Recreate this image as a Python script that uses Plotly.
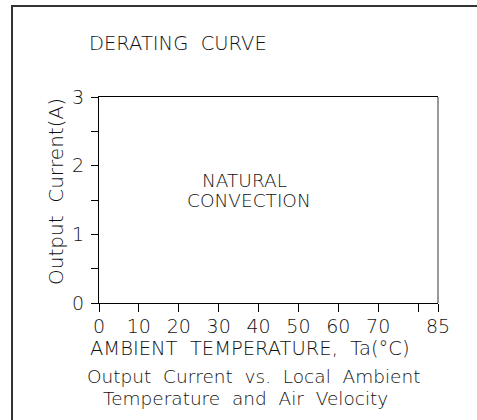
import plotly.graph_objects as go

# Axis ticks / labels
x_tickvals = [0, 10, 20, 30, 40, 50, 60, 70, 80, 85]
x_ticktext = ["0", "10", "20", "30", "40", "50", "60", "70", "", "85"]
y_tickvals = [0, 0.5, 1, 1.5, 2, 2.5, 3]
y_ticktext = ["0", "", "1", "", "2", "", "3"]
x_range = [0, 85]
y_range = [0, 3]

title_text = "DERATING  CURVE"
x_title = "AMBIENT  TEMPERATURE,  Ta(°C)"
y_title = "Output  Current(A)"
caption1 = "Output  Current  vs.  Local  Ambient"
caption2 = "Temperature  and  Air  Velocity"
region_lines = ["NATURAL", "CONVECTION"]
region_x = [36.6, 37.6]
region_y = [1.79, 1.50]

FONT = "DejaVu Sans"

fig = go.Figure()
fig.add_trace(go.Scatter(x=[], y=[], mode="lines", showlegend=False))

fig.update_layout(
    width=477, height=420, autosize=False,
    margin=dict(l=99, r=39, t=97, b=117),
    paper_bgcolor="white", plot_bgcolor="white",
    showlegend=False,
    font=dict(family=FONT, size=18, color="#111", weight=200),
)

tickfont = dict(family=FONT, size=19, color="#111", weight=200)
fig.update_xaxes(
    range=x_range, tickvals=x_tickvals, ticktext=x_ticktext,
    showgrid=False, zeroline=False,
    showline=True, linecolor="black", linewidth=1, mirror=True,
    ticks="outside", ticklen=8, tickcolor="black", tickwidth=1,
    tickfont=tickfont, ticklabelstandoff=-2,
)
fig.update_yaxes(
    range=y_range, tickvals=y_tickvals, ticktext=y_ticktext,
    showgrid=False, zeroline=False,
    showline=True, linecolor="black", linewidth=1,
    ticks="outside", ticklen=7, tickcolor="black", tickwidth=1,
    tickfont=tickfont, ticklabelstandoff=3,
)

# right edge of plot box (grey)
fig.add_shape(type="line", xref="paper", yref="paper", x0=1, x1=1, y0=0, y1=1,
              line=dict(color="#777", width=1.5))

# outer frame
fig.add_shape(type="rect", xref="paper", yref="paper",
              x0=-0.2566, x1=1.3, y0=-0.8, y1=1.4417,
              line=dict(color="#333", width=2))

def ann(text, x, y, xanchor="center", size=18, angle=0, xref="paper", yref="paper"):
    fig.add_annotation(text=text, x=x, y=y, xref=xref, yref=yref,
                       xanchor=xanchor, yanchor="middle", showarrow=False,
                       textangle=angle,
                       font=dict(family=FONT, size=size, color="#111", weight=200))

ann(title_text, -0.0354, 1.262, xanchor="left", size=19.5)
ann(x_title, 0.4454, -0.2233, size=19.5)
ann(caption1, 0.457, -0.3544, size=18.5)
ann(caption2, 0.4307, -0.466, size=18.5)
ann(y_title, -0.1268, 0.539, size=20, angle=-90)
for t, xx, yy in zip(region_lines, region_x, region_y):
    ann(t, xx, yy, size=18.5, xref="x", yref="y")

fig.write_html("out.html")
